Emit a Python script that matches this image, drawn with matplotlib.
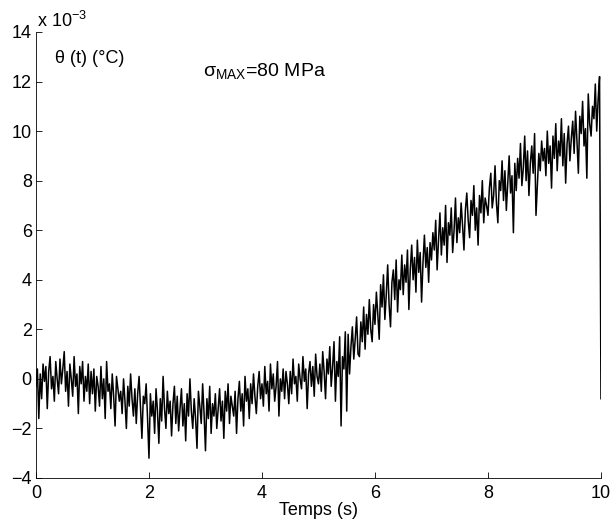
import numpy as np
import matplotlib
matplotlib.use("Agg")
import matplotlib.pyplot as plt

plt.rcParams['font.family'] = ['Liberation Sans', 'DejaVu Sans']
plt.rcParams['mathtext.fontset'] = 'custom'
plt.rcParams['mathtext.rm'] = 'Liberation Sans'

theta = [
    -0.3, 0.4, -1.6, 0.2, -0.8, 0.6, -0.1, 0.5, -1.2, 0.3, 0.9, -0.4, 0.1, -0.9, 0.7, 0.0, -0.6, 0.8, -0.2, 0.4,
    1.1, -0.5, 0.3, -1.1, 0.6, 0.0, -0.7, 0.9, -0.3, 0.2, -1.4, 0.5, -0.2, 0.7, -0.9, 0.1, -0.5, 0.6, -1.0, 0.3,
    -0.6, 0.4, -1.3, 0.1, -0.3, -1.1, 0.5, -0.8, 0.0, -1.6, 0.7, -0.5, -0.2, -1.2, 0.2, -0.7, -1.9, 0.1, -0.4, -0.9,
    -0.5, -1.4, 0.0, -0.9, -2.0, -0.3, -1.1, 0.2, -0.8, -1.5, -0.4, -1.8, -0.6, 0.1, -1.2, -2.4, -0.7, -1.0, -0.2, -1.6,
    -3.2, -0.6, -1.5, -0.9, -2.2, -0.4, -1.3, -2.6, -0.8, -1.7, 0.1, -1.2, -2.0, -0.5, -1.4, -0.9, -2.3, -1.0, -0.3, -1.8,
    -0.7, -2.1, -1.2, -0.4, -1.9, -1.0, -2.5, -0.6, -1.5, 0.0, -1.3, -2.0, -0.8, -1.6, -2.8, -0.5, -1.1, -1.8, -0.2, -1.4,
    -2.9, -0.8, -1.6, -0.3, -2.2, -1.0, -1.5, -0.6, -2.0, -1.2, -0.4, -1.7, -0.9, -2.4, -0.5, -1.3, -0.2, -1.8, -0.7, -1.1,
    -1.5, -0.5, -2.2, -0.8, -0.1, -1.3, -0.6, -1.9, 0.1, -0.9, -0.4, -1.6, -0.2, -1.0, 0.2, -0.7, -1.4, -0.3, 0.3, -0.8,
    -0.2, -1.1, 0.5, -0.6, -0.1, -1.3, 0.6, -0.4, 0.2, -0.9, -0.3, 0.7, -1.5, 0.0, -0.5, 0.4, -0.8, 0.3, -0.2, -1.0,
    0.3, -0.6, 0.8, -0.2, 0.1, -0.9, 0.6, 0.0, -0.4, 0.9, -0.1, 0.4, -1.2, 0.2, 0.7, -0.3, 0.5, -0.7, 1.0, 0.1,
    -0.2, 0.6, -0.5, 1.1, 0.3, -0.8, 0.8, 0.2, 1.3, -0.3, 0.5, 1.5, -0.9, 0.7, 0.1, 1.7, -1.9, 0.9, 0.4, 1.9,
    -1.3, 1.8, 0.2, 1.3, 2.1, 0.8, 1.6, 2.5, 1.0, 0.9, 2.3, 1.5, 2.9, 1.2, 2.6, 1.8, 3.2, 2.0, 1.5, 3.0,
    2.2, 3.5, 2.6, 1.6, 3.8, 2.9, 4.2, 2.4, 3.4, 4.6, 3.0, 2.1, 3.9, 4.4, 3.2, 4.8, 2.7, 4.0, 3.6, 5.0,
    3.4, 4.6, 3.9, 5.2, 2.8, 4.4, 5.4, 4.0, 4.9, 3.5, 5.6, 4.3, 5.1, 3.1, 4.7, 5.8, 4.5, 5.3, 3.9, 5.5,
    4.8, 5.9, 5.2, 6.4, 4.4, 5.6, 6.7, 5.0, 6.1, 5.4, 7.0, 4.7, 6.3, 5.8, 6.9, 5.1, 6.0, 7.3, 5.5, 6.5,
    5.9, 7.1, 6.2, 5.2, 6.8, 7.5, 6.4, 5.7, 7.2, 6.6, 7.8, 6.0, 6.9, 5.4, 7.4, 6.7, 8.0, 6.3, 7.3, 7.0,
    6.6, 7.7, 8.3, 6.9, 7.4, 8.6, 7.1, 6.3, 8.0, 7.6, 8.8, 7.2, 8.4, 6.8, 7.9, 9.0, 7.5, 8.2, 5.9, 8.7,
    7.6, 8.9, 8.1, 9.5, 7.8, 8.5, 9.8, 8.0, 9.2, 7.4, 8.7, 9.4, 8.3, 9.9, 6.6, 7.9, 9.1, 8.4, 9.6, 8.8,
    9.3, 8.2, 10.0, 8.7, 9.4, 7.7, 9.8, 8.9, 10.3, 8.4, 9.6, 9.0, 10.5, 8.6, 9.9, 7.9, 9.5, 10.2, 8.8, 9.7,
    10.4, 9.1, 10.8, 9.6, 8.3, 10.6, 9.9, 11.2, 9.4, 10.1, 8.1, 11.5, 10.3, 9.8, 11.0, 10.5, 11.9, 10.0, 11.3, 12.2,
    -0.8,
]
t = np.arange(len(theta)) * 0.025

xticks = [0, 2, 4, 6, 8, 10]
yticks = [-4, -2, 0, 2, 4, 6, 8, 10, 12, 14]

fig = plt.figure(figsize=(6.16, 5.28), dpi=100)
ax = fig.add_axes([0.0584, 0.0947, 0.9172, 0.8447])
ax.plot(t, theta, color='black', lw=1.1)

ax.set_xlim(0, 10)
ax.set_ylim(-4, 14)
ax.set_xticks(xticks)
ax.set_yticks(yticks)
ax.tick_params(direction='in', length=4, width=0.6, labelsize=13)
ax.tick_params(axis='x', pad=5)
ax.tick_params(axis='y', pad=3)
for s in ['top', 'right']:
    ax.spines[s].set_visible(False)
for s in ['left', 'bottom']:
    ax.spines[s].set_linewidth(0.6)

ax.set_xlabel('Temps (s)', fontsize=13, labelpad=0)
ax.text(0.34, 12.75, 'θ (t) (°C)', fontsize=13, va='baseline')
ax.text(2.96, 12.18, 'σ$_{\\mathrm{MAX}}$=80 MPa', fontsize=14, va='baseline')
ax.text(0.02, 14.2, 'x 10$^{-3}$', fontsize=13, va='baseline')

fig.savefig('out.png', dpi=100)
